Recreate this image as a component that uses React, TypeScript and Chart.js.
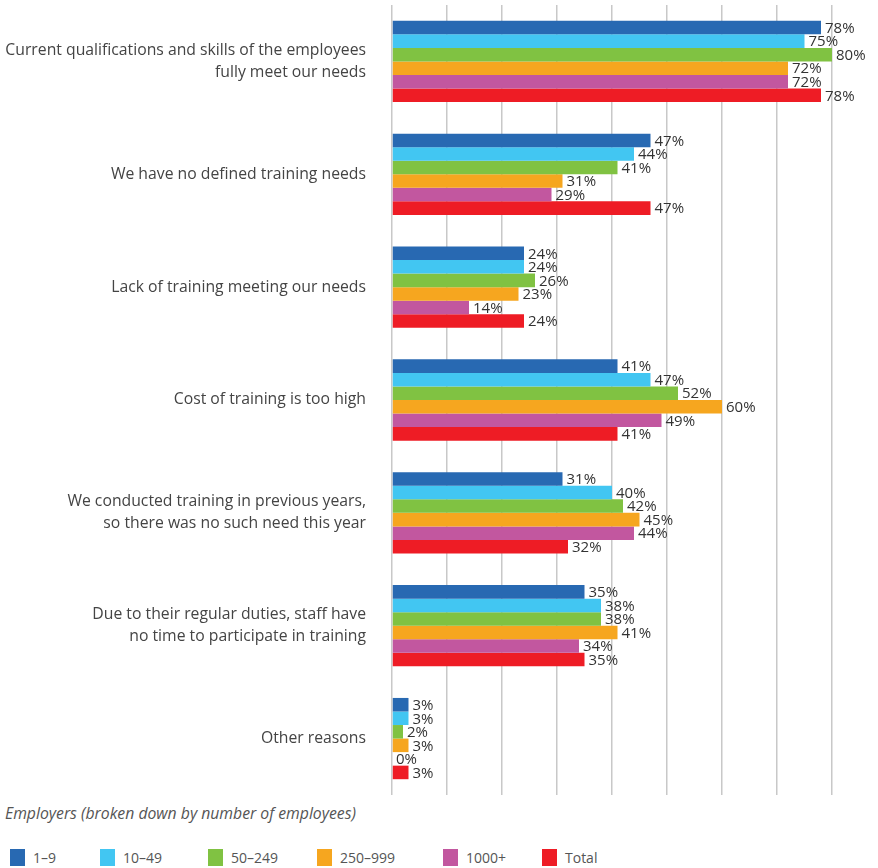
import React, { useEffect, useRef } from "react";
import { Chart, registerables } from "chart.js";

Chart.register(...registerables);

const categories: (string | string[])[] = [
  ["Current qualifications and skills of the employees", "fully meet our needs"],
  "We have no defined training needs",
  "Lack of training meeting our needs",
  "Cost of training is too high",
  ["We conducted training in previous years,", "so there was no such need this year"],
  ["Due to their regular duties, staff have", "no time to participate in training"],
  "Other reasons",
];

const seriesNames = ["1–9", "10–49", "50–249", "250–999", "1000+", "Total"];
const seriesColors = ["#2869b2", "#42c6f2", "#80c242", "#f6a61f", "#c2579f", "#ee1c25"];

const s1to9 = [78, 47, 24, 41, 31, 35, 3];
const s10to49 = [75, 44, 24, 47, 40, 38, 3];
const s50to249 = [80, 41, 26, 52, 42, 38, 2];
const s250to999 = [72, 31, 23, 60, 45, 41, 3];
const s1000plus = [72, 29, 14, 49, 44, 34, 0];
const sTotal = [78, 47, 24, 41, 32, 35, 3];

const seriesValues = [s1to9, s10to49, s50to249, s250to999, s1000plus, sTotal];

const FONT = "'Open Sans', 'Noto Sans', sans-serif";

const valueLabels = {
  id: "valueLabels",
  afterDatasetsDraw(chart: any) {
    const ctx = chart.ctx;
    ctx.save();
    ctx.font = `15px ${FONT}`;
    ctx.fillStyle = "#333333";
    ctx.textAlign = "left";
    ctx.textBaseline = "middle";
    chart.data.datasets.forEach((ds: any, di: number) => {
      const meta = chart.getDatasetMeta(di);
      meta.data.forEach((bar: any, i: number) => {
        const v = ds.data[i];
        ctx.fillText(`${v}%`, bar.x + 4, bar.y + 1);
      });
    });
    ctx.restore();
  },
};

export default function App() {
  const ref = useRef<HTMLCanvasElement | null>(null);

  useEffect(() => {
    if (!ref.current) return;
    const chart = new Chart(ref.current, {
      type: "bar",
      data: {
        labels: categories,
        datasets: seriesNames.map((name, i) => ({
          label: name,
          data: seriesValues[i],
          backgroundColor: seriesColors[i],
          borderWidth: 0,
          categoryPercentage: 0.72,
          barPercentage: 1.0,
        })),
      },
      options: {
        indexAxis: "y",
        responsive: false,
        animation: false,
        layout: { padding: { left: 0, right: 46, top: 5, bottom: 5 } },
        plugins: {
          legend: { display: false },
          tooltip: { enabled: false },
        },
        scales: {
          x: {
            min: 0,
            max: 80,
            ticks: { display: false, stepSize: 10 },
            grid: { color: "#c8c8c8", lineWidth: 1.5, drawTicks: false },
            border: { display: false },
            afterFit: (scale: any) => {
              scale.height = 0;
              scale.paddingLeft = 0;
              scale.paddingRight = 0;
            },
          },
          y: {
            ticks: {
              color: "#444444",
              font: { family: FONT, size: 15.75, lineHeight: 1.4 },
              padding: 26,
            },
            grid: { display: false, drawTicks: false },
            border: { display: false },
            afterFit: (scale: any) => {
              scale.width = 392;
              scale.paddingTop = 0;
              scale.paddingBottom = 0;
            },
          },
        },
      },
      plugins: [valueLabels],
    });
    return () => chart.destroy();
  }, []);

  const legendX = [10, 100, 208, 317, 443, 542];

  return (
    <div
      style={{
        position: "absolute",
        top: 0,
        left: 0,
        width: 878,
        height: 868,
        background: "#ffffff",
        fontFamily: FONT,
      }}
    >
      <canvas ref={ref} width={878} height={800} style={{ display: "block" }} />
      <div
        style={{
          position: "absolute",
          left: 5,
          top: 802,
          fontSize: 15.75,
          fontStyle: "italic",
          color: "#555555",
          lineHeight: "22px",
          whiteSpace: "nowrap",
        }}
      >
        Employers (broken down by number of employees)
      </div>
      {seriesNames.map((name, i) => (
        <div
          key={name}
          style={{
            position: "absolute",
            left: legendX[i],
            top: 849,
            height: 17,
            display: "flex",
            alignItems: "center",
            fontSize: 14,
            color: "#555555",
          }}
        >
          <span
            style={{
              display: "inline-block",
              width: 15,
              height: 17,
              background: seriesColors[i],
              marginRight: 8,
            }}
          />
          <span>{name}</span>
        </div>
      ))}
    </div>
  );
}
